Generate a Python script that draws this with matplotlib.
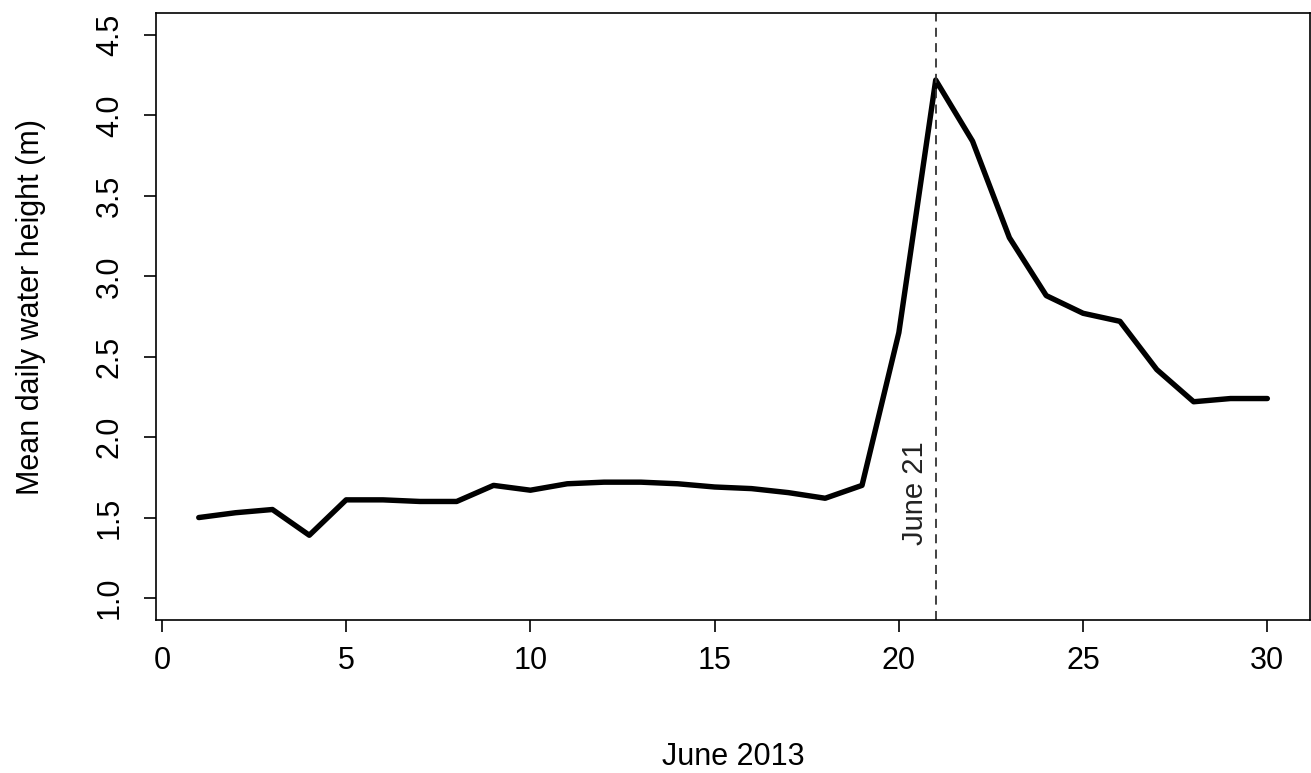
import matplotlib

matplotlib.use("Agg")
import matplotlib.pyplot as plt

# mean daily water height, June 2013
days = list(range(1, 31))
height_m = [1.50, 1.53, 1.55, 1.39, 1.61, 1.61, 1.60, 1.60, 1.70, 1.67,
            1.71, 1.72, 1.72, 1.71, 1.69, 1.68, 1.655, 1.62, 1.70, 2.65,
            4.22, 3.84, 3.24, 2.88, 2.77, 2.72, 2.42, 2.22, 2.24, 2.24]
flood_day = 21
x_ticks = [0, 5, 10, 15, 20, 25, 30]
y_ticks = [1.0, 1.5, 2.0, 2.5, 3.0, 3.5, 4.0, 4.5]

plt.rcParams["font.family"] = ["Liberation Sans", "DejaVu Sans"]

fig = plt.figure(figsize=(13.11, 7.73), dpi=100)
ax = fig.add_axes([0.119, 0.1973, 0.8803, 0.7865])

ax.plot(days, height_m, color="black", lw=3.9,
        solid_capstyle="round", solid_joinstyle="round")
ax.axvline(flood_day, color="#333333", lw=1.3, ls=(0, (5, 3.5)))
ax.text(flood_day - 0.55, 1.33, "June 21", rotation=90, ha="center",
        va="bottom", fontsize=21, color="#222222")

# R-style 4% padding around the data range
ax.set_xlim(-0.16, 31.16)
ax.set_ylim(0.86, 4.64)
ax.set_xticks(x_ticks)
ax.set_yticks(y_ticks)
ax.set_yticklabels([f"{v:.1f}" for v in y_ticks], rotation=90, va="center")

ax.tick_params(direction="out", length=8.5, width=1.2, labelsize=22,
               colors="black", pad=10)
ax.tick_params(axis="y", pad=14)
for sp in ax.spines.values():
    sp.set_linewidth(1.2)

ax.set_xlabel("June 2013", fontsize=22, va="center")
ax.xaxis.set_label_coords(0.5, -0.225)
ax.set_ylabel("Mean daily water height (m)", fontsize=22, va="center")
ax.yaxis.set_label_coords(-0.108, 0.515)

fig.savefig("out.png", dpi=100)
